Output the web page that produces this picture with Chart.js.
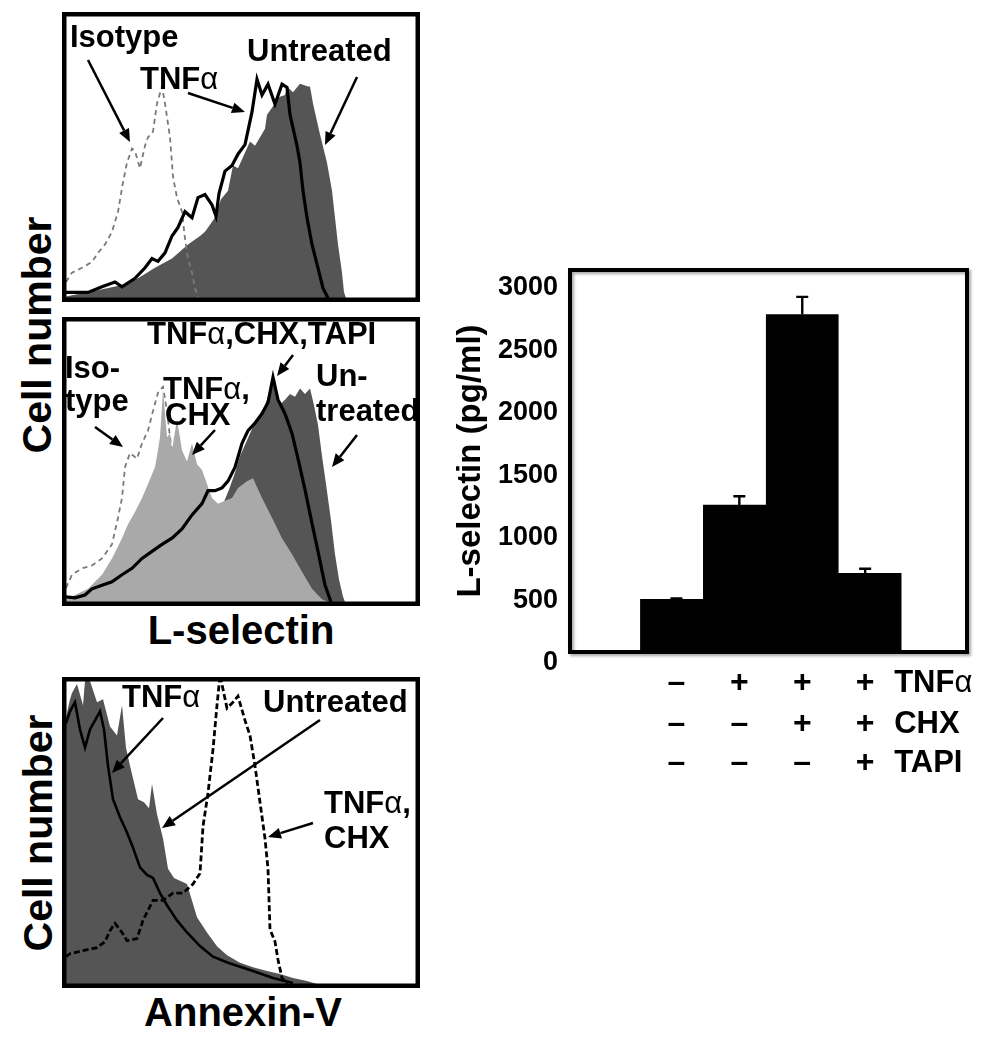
<!DOCTYPE html>
<html>
<head>
<meta charset="utf-8">
<script src="https://cdn.jsdelivr.net/npm/chart.js@4.4.0/dist/chart.umd.min.js"></script>
<style>
  body { margin: 0; background: #fff; width: 1005px; height: 1050px; position: relative; overflow: hidden;
         font-family: "Liberation Sans", Arial, sans-serif; }
  canvas { position: absolute; }
  .lbl { position: absolute; font-weight: bold; font-size: 40px; white-space: nowrap; line-height: 1;
         transform: translate(-50%, -50%); color: #000; }
  .rot { transform: translate(-50%, -50%) rotate(-90deg); }
</style>
</head>
<body>
<canvas id="histA" width="358" height="290" style="left:62px;top:12px"></canvas>
<canvas id="histB" width="358" height="289" style="left:62px;top:317px"></canvas>
<canvas id="histC" width="358" height="311" style="left:62px;top:677px"></canvas>
<canvas id="bars" width="585" height="560" style="left:420px;top:240px"></canvas>

<div class="lbl rot" style="left:37px;top:335px;font-size:41px">Cell number</div>
<div class="lbl" style="left:241px;top:630px">L-selectin</div>
<div class="lbl rot" style="left:38px;top:833px;font-size:41px">Cell number</div>
<div class="lbl" style="left:243px;top:1012px">Annexin-V</div>

<script>
// histograms: [channel, % of max count]
const isoA = [[0,5.7],[6,9],[16,10.7],[26,12.8],[32,16],[39,19],[46,23.5],[52,30.6],[57,41],[61,48],[66,53],[69,52],[74,46],[79,54],[82,57],[87,59],[91,69],[96,75],[99,69],[104,57],[107,43],[111,35.6],[116,30.6],[119,21],[122,14],[126,9],[129,3.5],[132,0]];
const tnfA = [[0,2],[6,2],[22,2],[36,4],[49,5.7],[56,4],[69,7],[79,10.7],[86,14],[92,13],[99,16],[106,22],[112,25],[119,30.6],[126,28.5],[132,35.6],[139,36.7],[146,33],[150,29],[153,37],[159,45],[166,47],[172,51],[179,54.4],[186,66],[191,77.6],[196,72],[202,75.8],[209,68.7],[216,75.8],[221,74.7],[224,65],[231,54],[234,48],[237,38],[241,28.5],[246,19],[251,12],[257,3.5],[262,0]];
const untrA = [[0,0.5],[6,1],[22,2],[41,3.5],[56,4.6],[72,7],[89,10.7],[106,14],[122,19],[134,22],[139,23.5],[148,28],[155,35],[162,38],[167,47],[172,46],[184,55.5],[189,54],[199,60],[201,65],[209,69],[211,71],[219,72],[221,75],[227,73],[234,76],[242,75],[244,75],[247,69],[254,58],[261,48],[266,38],[269,28.5],[272,19],[276,9],[278,2],[280,0]];

const isoB = [[0,5],[6,9.7],[16,12],[26,13],[36,15.5],[46,20.5],[52,30],[56,37],[59,48],[64,53],[71,51],[76,56.5],[82,61],[87,68],[92,74.5],[97,76.6],[101,68],[104,58.6],[109,47],[116,32],[122,18],[129,6],[136,0]];
const chxB = [[0,1],[9,2.5],[22,4.7],[36,9.7],[46,15.5],[56,22.7],[62,27.7],[69,32],[76,37],[82,42],[89,48],[91,52],[94,58.6],[97,75.5],[101,58.6],[104,60],[106,54],[111,65],[116,54],[121,50],[126,56.5],[131,49],[136,47],[141,42],[146,37],[152,35],[159,36],[166,37],[172,40.6],[181,43],[187,44],[196,37],[206,30],[216,22.7],[226,17],[236,10.8],[246,4.7],[256,1],[262,0]];
const untrB = [[0,1],[20,3],[40,6],[60,9],[80,12],[100,16],[120,21],[140,27],[155,33],[163,40],[169,46],[174,52],[179,56],[189,64],[199,70],[205,76],[209,79],[213,70],[219,72],[224,74],[229,73],[234,76],[239,74],[244,76],[248,70],[252,63],[256,52],[260,42],[265,29],[269,17],[273,8],[277,2],[279,0]];
const tapiB = [[0,1.8],[9,1.5],[19,2.5],[26,4.7],[36,6],[46,7.2],[56,9.7],[66,12],[76,15.5],[86,18],[96,20.5],[106,22.7],[116,26],[126,31],[136,35],[142,39.6],[149,39.6],[156,40.6],[162,43],[169,48],[176,56.5],[182,61],[189,63.7],[196,67],[202,71],[207,80],[212,72],[219,67],[226,60],[232,51],[239,40],[246,28],[252,18],[259,6],[265,0]];

const untrC = [[0,88],[4,94],[6,96],[11,99],[17,92],[19,100],[24,100],[31,93],[37,94],[44,85],[51,82],[56,92],[60,78],[64,72],[72,61],[78,60],[83,58],[86,66],[91,56],[97,48],[102,38],[108,35],[121,33],[131,22],[141,17],[151,12.5],[161,9.5],[174,7],[187,5.5],[201,4.3],[214,3.3],[227,2],[241,1],[251,0]];
const tnfC = [[0,86],[4,90],[9,93],[14,84],[19,78],[24,84],[29,87],[34,90],[38,84],[42,72],[47,61],[54,55],[61,50],[67,45],[74,38.5],[81,36],[87,35],[94,30],[101,26],[111,21],[121,17],[134,12.5],[147,9],[162,7],[187,4.3],[207,2],[227,0.3]];
const chxC = [[0,9],[4,10],[17,11],[31,12],[39,14],[44,17.6],[49,20],[56,17],[61,14.3],[71,15],[77,21],[87,27.6],[97,27.6],[107,30],[117,30],[127,33],[134,36.5],[137,52],[142,63],[147,77.4],[151,92],[154,102],[161,91],[167,93],[172,95],[179,87],[184,82],[189,72],[194,60],[199,48],[202,38],[204,18],[209,14],[212,8],[216,2],[221,0]];

// ELISA bars
const conditions = ['Untreated', 'TNFα', 'TNFα+CHX', 'TNFα+CHX+TAPI'];
const lselectin = [506, 1260, 2786, 714];
const lselectinErr = [8, 72, 141, 37];
const yTicks = [0, 500, 1000, 1500, 2000, 2500, 3000];
const treatments = ['TNFα', 'CHX', 'TAPI'];
const signs = [
    ['–', '+', '+', '+'],
    ['–', '–', '+', '+'],
    ['–', '–', '–', '+'],
];

const CH_MAX = 350;
const FONT = '"Liberation Sans", Arial, sans-serif';
Chart.defaults.font.family = FONT;
Chart.defaults.color = '#000';

function pts(arr) {
    return arr.map(([x, y]) => ({x, y}));
}

// bold text with a normal-weight alpha, like the original labels
function richText(ctx, text, x, y, size) {
    text.split(/(α)/).filter(Boolean).forEach(s => {
        ctx.font = (s === 'α' ? 'normal ' : 'bold ') + size + 'px ' + FONT;
        ctx.fillText(s, x, y);
        x += ctx.measureText(s).width;
    });
}

function arrow(ctx, x1, y1, x2, y2) {
    const a = Math.atan2(y2 - y1, x2 - x1);
    const len = 13, half = 5.5;
    const bx = x2 - len * Math.cos(a), by = y2 - len * Math.sin(a);
    ctx.beginPath();
    ctx.moveTo(x1, y1);
    ctx.lineTo(bx, by);
    ctx.stroke();
    ctx.beginPath();
    ctx.moveTo(x2, y2);
    ctx.lineTo(bx + half * Math.sin(a), by - half * Math.cos(a));
    ctx.lineTo(bx - half * Math.sin(a), by + half * Math.cos(a));
    ctx.closePath();
    ctx.fill();
}

const frame = {
    id: 'frame',
    afterDraw(chart) {
        const {ctx, width, height} = chart;
        ctx.save();
        ctx.strokeStyle = '#000';
        ctx.lineWidth = 4.5;
        ctx.strokeRect(2.25, 2.25, width - 4.5, height - 4.5);
        ctx.restore();
    }
};

// labels + arrows, given in page pixels
function notes(ox, oy, texts, arrows) {
    return {
        id: 'notes',
        afterDraw(chart) {
            const ctx = chart.ctx;
            ctx.save();
            ctx.fillStyle = '#000';
            ctx.strokeStyle = '#000';
            ctx.lineWidth = 2.5;
            ctx.textBaseline = 'alphabetic';
            texts.forEach(([t, x, y]) => richText(ctx, t, x - ox, y - oy, 31));
            arrows.forEach(([x1, y1, x2, y2]) => arrow(ctx, x1 - ox, y1 - oy, x2 - ox, y2 - oy));
            ctx.restore();
        }
    };
}

const line = (arr, color, width, dash) => ({
    data: pts(arr), borderColor: color, borderWidth: width, borderDash: dash || [], fill: false
});
const area = (arr, color) => ({
    data: pts(arr), borderColor: color, borderWidth: 0, backgroundColor: color, fill: 'origin'
});

function histogram(id, datasets, notePlugin) {
    return new Chart(document.getElementById(id), {
        type: 'line',
        data: {datasets},
        options: {
            responsive: false,
            animation: false,
            layout: {padding: 4},
            elements: {point: {radius: 0}, line: {tension: 0}},
            scales: {
                x: {type: 'linear', min: 0, max: CH_MAX, display: false},
                y: {min: 0, max: 100, display: false}
            },
            plugins: {legend: {display: false}, tooltip: {enabled: false}}
        },
        plugins: [frame, notePlugin]
    });
}

histogram('histA', [
    line(tnfA, '#000', 3.2),
    line(isoA, '#7a7a7a', 1.8, [5, 4]),
    area(untrA, '#555555'),
], notes(62, 12,
    [['Isotype', 70, 47], ['TNFα', 140, 89], ['Untreated', 247, 61]],
    [[88, 60, 130, 142], [188, 93, 245, 112], [357, 77, 325, 145]]));

histogram('histB', [
    line(tapiB, '#000', 3.2),
    area(chxB, '#a9a9a9'),
    area(untrB, '#555555'),
    line(isoB, '#7a7a7a', 1.8, [5, 4]),
], notes(62, 317,
    [['TNFα,CHX,TAPI', 147, 344], ['Iso-', 65, 378], ['type', 65, 411],
     ['TNFα,', 163, 399], ['CHX', 165, 425], ['Un-', 316, 386], ['treated', 316, 421]],
    [[293, 355, 277, 376], [95, 427, 123, 447], [215, 430, 192, 455], [357, 435, 332, 467]]));

histogram('histC', [
    line(tnfC, '#000', 2.6),
    line(chxC, '#000', 2.8, [6, 3]),
    area(untrC, '#555555'),
], notes(62, 677,
    [['TNFα', 122, 707], ['Untreated', 263, 712], ['TNFα,', 324, 813], ['CHX', 324, 848]],
    [[163, 718, 112, 773], [320, 720, 162, 828], [313, 823, 268, 837]]));

const barFrame = {
    id: 'barFrame',
    afterDatasetsDraw(chart) {
        const {ctx, chartArea: a} = chart;
        ctx.save();
        ctx.shadowColor = 'rgba(0,0,0,0.35)';
        ctx.shadowOffsetX = 2;
        ctx.shadowOffsetY = 2;
        ctx.shadowBlur = 3;
        ctx.strokeStyle = '#000';
        ctx.lineWidth = 4;
        ctx.strokeRect(a.left, a.top, a.right - a.left, a.bottom - a.top);
        ctx.restore();
    }
};

const errorBars = {
    id: 'errorBars',
    afterDatasetsDraw(chart) {
        const {ctx, scales: {x, y}} = chart;
        ctx.save();
        ctx.strokeStyle = '#000';
        ctx.lineWidth = 2.4;
        lselectin.forEach((v, i) => {
            const px = x.getPixelForValue(i);
            const top = y.getPixelForValue(v);
            const hi = y.getPixelForValue(v + lselectinErr[i]);
            ctx.beginPath();
            ctx.moveTo(px, top);
            ctx.lineTo(px, hi);
            ctx.moveTo(px - 6, hi);
            ctx.lineTo(px + 6, hi);
            ctx.stroke();
        });
        ctx.restore();
    }
};

const signTable = {
    id: 'signTable',
    afterDraw(chart) {
        const {ctx, chartArea, scales: {x}} = chart;
        const rowY = [31, 72, 111];
        ctx.save();
        ctx.fillStyle = '#000';
        ctx.textBaseline = 'middle';
        signs.forEach((row, r) => {
            const y = chartArea.bottom + rowY[r];
            ctx.textAlign = 'center';
            ctx.font = 'bold 32px ' + FONT;
            row.forEach((s, i) => ctx.fillText(s, x.getPixelForValue(i), y));
            ctx.textAlign = 'left';
            richText(ctx, treatments[r], x.getPixelForValue(conditions.length - 1) + 29, y, 31);
        });
        ctx.restore();
    }
};

new Chart(document.getElementById('bars'), {
    type: 'bar',
    data: {
        datasets: [{
            data: conditions.map((c, i) => ({x: i, y: lselectin[i]})),
            backgroundColor: '#000',
            borderWidth: 0,
            barThickness: 72,
            clip: 0
        }]
    },
    options: {
        responsive: false,
        animation: false,
        layout: {padding: {left: 27, right: 38, top: 30, bottom: 148}},
        scales: {
            x: {type: 'linear', min: -1.166, max: 4.093, display: false},
            y: {
                min: 85,
                max: 3142,
                afterBuildTicks: s => { s.ticks = yTicks.map(v => ({value: v})); },
                afterFit: s => { s.width = 123; },
                grid: {display: false, drawTicks: false},
                border: {display: false},
                ticks: {padding: 12, color: '#000', font: {size: 27, weight: 'bold'}, callback: v => String(v)},
                title: {display: true, text: 'L-selectin (pg/ml)', color: '#000', font: {size: 33, weight: 'bold'}}
            }
        },
        plugins: {legend: {display: false}, tooltip: {enabled: false}}
    },
    plugins: [barFrame, errorBars, signTable]
});
</script>
</body>
</html>
